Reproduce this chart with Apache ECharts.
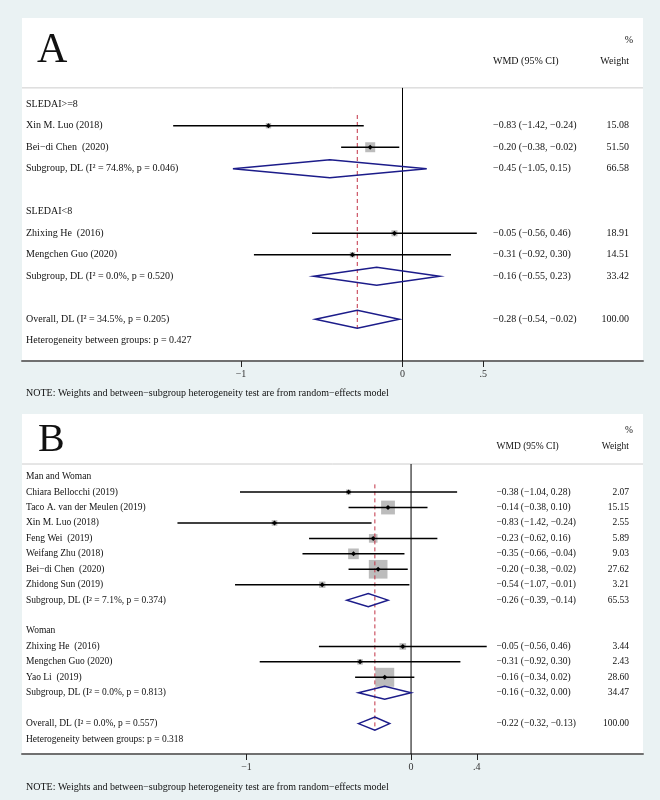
<!DOCTYPE html>
<html><head><meta charset="utf-8">
<script src="https://cdn.jsdelivr.net/npm/echarts@6/dist/echarts.min.js"></script>
<style>html,body{margin:0;padding:0;background:#eaf2f3;}#c{width:660px;height:800px;}</style>
</head><body><div id="c"></div>
<script>
// ---------- Panel A data ----------
const labelsA = ['SLEDAI>=8', 'Xin M. Luo (2018)', 'Bei\u2212di Chen  (2020)', 'Subgroup, DL (I\u00B2 = 74.8%, p = 0.046)', '',
  'SLEDAI<8', 'Zhixing He  (2016)', 'Mengchen Guo (2020)', 'Subgroup, DL (I\u00B2 = 0.0%, p = 0.520)', '',
  'Overall, DL (I\u00B2 = 34.5%, p = 0.205)', 'Heterogeneity between groups: p = 0.427'];
const kindA = ['group','study','study','pooled','blank','group','study','study','pooled','blank','overall','text'];
const estA = [null, -0.83, -0.20, -0.45, null, null, -0.05, -0.31, -0.16, null, -0.28, null];
const loA  = [null, -1.42, -0.38, -1.05, null, null, -0.56, -0.92, -0.55, null, -0.54, null];
const hiA  = [null, -0.24, -0.02,  0.15, null, null,  0.46,  0.30,  0.23, null, -0.02, null];
const wA   = [null, 15.08, 51.50, 66.58, null, null, 18.91, 14.51, 33.42, null, 100.00, null];
const ticksA = [-1, 0, 0.5];
const tickLabelsA = ['\u22121', '0', '.5'];

// ---------- Panel B data ----------
const labelsB = ['Man and Woman', 'Chiara Bellocchi (2019)', 'Taco A. van der Meulen (2019)', 'Xin M. Luo (2018)',
  'Feng Wei  (2019)', 'Weifang Zhu (2018)', 'Bei\u2212di Chen  (2020)', 'Zhidong Sun (2019)',
  'Subgroup, DL (I\u00B2 = 7.1%, p = 0.374)', '', 'Woman', 'Zhixing He  (2016)', 'Mengchen Guo (2020)',
  'Yao Li  (2019)', 'Subgroup, DL (I\u00B2 = 0.0%, p = 0.813)', '', 'Overall, DL (I\u00B2 = 0.0%, p = 0.557)',
  'Heterogeneity between groups: p = 0.318'];
const kindB = ['group','study','study','study','study','study','study','study','pooled','blank','group',
  'study','study','study','pooled','blank','overall','text'];
const estB = [null, -0.38, -0.14, -0.83, -0.23, -0.35, -0.20, -0.54, -0.26, null, null, -0.05, -0.31, -0.16, -0.16, null, -0.22, null];
const loB  = [null, -1.04, -0.38, -1.42, -0.62, -0.66, -0.38, -1.07, -0.39, null, null, -0.56, -0.92, -0.34, -0.32, null, -0.32, null];
const hiB  = [null,  0.28,  0.10, -0.24,  0.16, -0.04, -0.02, -0.01, -0.14, null, null,  0.46,  0.30,  0.02,  0.00, null, -0.13, null];
const wB   = [null,  2.07, 15.15,  2.55,  5.89,  9.03, 27.62,  3.21, 65.53, null, null,  3.44,  2.43, 28.60, 34.47, null, 100.00, null];
const ticksB = [-1, 0, 0.4];
const tickLabelsB = ['\u22121', '0', '.4'];

const noteText = 'NOTE: Weights and between\u2212subgroup heterogeneity test are from random\u2212effects model';

// ---------- styling / layout ----------
const SERIF = '"Liberation Serif", "Times New Roman", serif';
const panels = [
  { letter: 'A', labels: labelsA, kind: kindA, est: estA, lo: loA, hi: hiA, w: wA, ticks: ticksA, tickLabels: tickLabelsA,
    grid: { left: 22, top: 18, width: 621, height: 343 }, xMin: -2.356, xMax: 1.489, yMin: -4.01, yMax: 11.94,
    fs: 10, boxK: 1.39, sepRow: -0.76, wmdX: 493, wtX: 629, letterX: 37, letterY: 51, letterFs: 42,
    pctY: 40.7, hdrY: 61.7, noteY: 393, labelMargin: 8 },
  { letter: 'B', labels: labelsB, kind: kindB, est: estB, lo: loB, hi: hiB, w: wB, ticks: ticksB, tickLabels: tickLabelsB,
    grid: { left: 22, top: 414, width: 621, height: 340 }, xMin: -2.365, xMax: 1.410, yMin: -4.06, yMax: 17.97,
    fs: 9.5, boxK: 3.55, sepRow: -0.82, wmdX: 496.5, wtX: 629, letterX: 38, letterY: 440, letterFs: 40,
    pctY: 430, hdrY: 446, noteY: 787, labelMargin: 8.5 }
];

function fmt(v) { return v.toFixed(2).replace('-', '\u2212'); }

const chart = echarts.init(document.getElementById('c'), null, { renderer: 'canvas' });
const grids = [], xAxes = [], yAxes = [], series = [], graphics = [];

panels.forEach((P, gi) => {
  grids.push(Object.assign({ show: true, backgroundColor: '#ffffff', borderWidth: 0 }, P.grid));
  xAxes.push({
    gridIndex: gi, type: 'value', min: P.xMin, max: P.xMax, position: 'bottom',
    axisLine: { show: true, onZero: false, lineStyle: { color: '#707070', width: 2 } },
    axisTick: { show: true, customValues: P.ticks, length: 6, inside: false, lineStyle: { color: '#222', width: 1 } },
    axisLabel: { show: true, customValues: P.ticks, margin: P.labelMargin, color: '#333', fontSize: 10, fontFamily: SERIF,
      formatter: v => { const i = P.ticks.findIndex(t => Math.abs(t - v) < 1e-9); return i >= 0 ? P.tickLabels[i] : ''; } },
    splitLine: { show: false }
  });
  yAxes.push({ gridIndex: gi, type: 'value', inverse: true, min: P.yMin, max: P.yMax, show: false });

  const studyData = [], pooledData = [], textData = [];
  P.labels.forEach((l, i) => {
    textData.push([0, i]);
    if (P.kind[i] === 'study') studyData.push([P.est[i], i, P.lo[i], P.hi[i], P.w[i]]);
    if (P.kind[i] === 'pooled' || P.kind[i] === 'overall') pooledData.push([P.est[i], i, P.lo[i], P.hi[i], P.w[i]]);
  });
  const ovIdx = P.kind.indexOf('overall');
  const ovEst = P.est[ovIdx];

  // weight boxes
  series.push({
    type: 'custom', xAxisIndex: gi, yAxisIndex: gi, z: 2, silent: true, data: studyData,
    renderItem: (params, api) => {
      const c = api.coord([api.value(0), api.value(1)]);
      const s = P.boxK * Math.sqrt(api.value(4));
      return { type: 'rect', shape: { x: c[0] - s / 2, y: c[1] - s / 2, width: s, height: s }, style: { fill: '#bcbcbc' } };
    }
  });
  // reference lines
  series.push({
    type: 'custom', xAxisIndex: gi, yAxisIndex: gi, z: 3, silent: true, data: [[ovEst, ovIdx]],
    renderItem: (params, api) => {
      const est = api.value(0), row = api.value(1);
      const sL = api.coord([P.xMin, P.sepRow]), sR = api.coord([P.xMax, P.sepRow]);
      const z1 = api.coord([0, P.sepRow]), z2 = api.coord([0, P.yMax]);
      const d1 = api.coord([est, 0.5]), d2 = api.coord([est, row + 0.42]);
      return { type: 'group', children: [
        { type: 'line', shape: { x1: sL[0], y1: sL[1], x2: sR[0], y2: sR[1] }, style: { stroke: '#cccccc', lineWidth: 1 } },
        { type: 'line', shape: { x1: z1[0], y1: z1[1], x2: z2[0], y2: z2[1] }, style: { stroke: '#000', lineWidth: 1 } },
        { type: 'line', shape: { x1: d1[0], y1: d1[1], x2: d2[0], y2: d2[1] }, style: { stroke: '#c23246', lineWidth: 1, lineDash: [4, 3] } }
      ] };
    }
  });
  // CI lines + points
  series.push({
    type: 'custom', xAxisIndex: gi, yAxisIndex: gi, z: 4, silent: true, data: studyData,
    renderItem: (params, api) => {
      const row = api.value(1);
      const pE = api.coord([api.value(0), row]), pL = api.coord([api.value(2), row]), pH = api.coord([api.value(3), row]);
      const r = 2.5;
      return { type: 'group', children: [
        { type: 'line', shape: { x1: pL[0], y1: pL[1], x2: pH[0], y2: pH[1] }, style: { stroke: '#000', lineWidth: 1.5 } },
        { type: 'polygon', shape: { points: [[pE[0] - r, pE[1]], [pE[0], pE[1] - r], [pE[0] + r, pE[1]], [pE[0], pE[1] + r]] }, style: { fill: '#000' } }
      ] };
    }
  });
  // pooled diamonds
  series.push({
    type: 'custom', xAxisIndex: gi, yAxisIndex: gi, z: 4, silent: true, data: pooledData,
    renderItem: (params, api) => {
      const row = api.value(1), est = api.value(0);
      const a = api.coord([api.value(2), row]), b = api.coord([est, row - 0.42]), c = api.coord([api.value(3), row]), d = api.coord([est, row + 0.42]);
      return { type: 'polygon', shape: { points: [a, b, c, d] }, style: { fill: 'none', stroke: '#1c1c8a', lineWidth: 1.5 } };
    }
  });
  // text columns
  series.push({
    type: 'custom', xAxisIndex: gi, yAxisIndex: gi, z: 5, silent: true, data: textData,
    renderItem: (params, api) => {
      const i = api.value(1);
      const y = api.coord([0, i])[1];
      const font = P.fs + 'px ' + SERIF;
      const kids = [{ type: 'text', style: { x: 26, y: y, text: P.labels[i], font: font, fill: '#111', align: 'left', verticalAlign: 'middle' } }];
      if (P.est[i] !== null) {
        kids.push({ type: 'text', style: { x: P.wmdX, y: y, text: fmt(P.est[i]) + ' (' + fmt(P.lo[i]) + ', ' + fmt(P.hi[i]) + ')', font: font, fill: '#111', align: 'left', verticalAlign: 'middle' } });
        kids.push({ type: 'text', style: { x: P.wtX, y: y, text: P.w[i].toFixed(2), font: font, fill: '#111', align: 'right', verticalAlign: 'middle' } });
      }
      return { type: 'group', children: kids };
    }
  });

  // headers, letter, note
  graphics.push(
    { type: 'text', x: P.letterX, y: P.letterY, style: { text: P.letter, font: P.letterFs + 'px ' + SERIF, fill: '#111', align: 'left', verticalAlign: 'middle' } },
    { type: 'text', x: 633, y: P.pctY, style: { text: '%', font: P.fs + 'px ' + SERIF, fill: '#111', align: 'right', verticalAlign: 'middle' } },
    { type: 'text', x: P.wmdX, y: P.hdrY, style: { text: 'WMD (95% CI)', font: P.fs + 'px ' + SERIF, fill: '#111', align: 'left', verticalAlign: 'middle' } },
    { type: 'text', x: P.wtX, y: P.hdrY, style: { text: 'Weight', font: P.fs + 'px ' + SERIF, fill: '#111', align: 'right', verticalAlign: 'middle' } },
    { type: 'text', x: 26, y: P.noteY, style: { text: noteText, font: '10px ' + SERIF, fill: '#111', align: 'left', verticalAlign: 'middle' } }
  );
});

chart.setOption({
  backgroundColor: '#eaf2f3',
  animation: false,
  grid: grids, xAxis: xAxes, yAxis: yAxes, series: series, graphic: graphics
});
</script></body></html>
